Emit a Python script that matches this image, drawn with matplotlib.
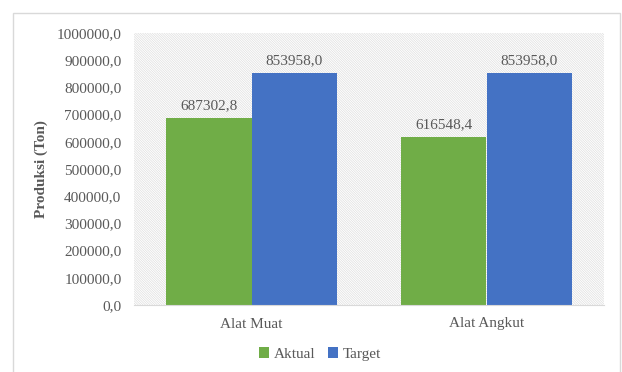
import numpy as np
import matplotlib.pyplot as plt
from matplotlib.patches import Rectangle

categories = ['Alat Muat', 'Alat Angkut']
aktual = [687302.8, 616548.4]
target = [853958.0, 853958.0]
yticks = np.arange(0, 1000001, 100000)

plt.rcParams['font.family'] = ['Liberation Serif', 'DejaVu Serif']
plt.rcParams['hatch.linewidth'] = 0.5
txt = '#595959'

def fmt(v):
    return f'{v:.1f}'.replace('.', ',')

fig = plt.figure(figsize=(6.22, 3.72), dpi=100)
fig.patches.append(Rectangle((13/622, -0.05), (607)/622, 1 - 13/372 + 0.05,
                             transform=fig.transFigure, fill=False,
                             edgecolor='#d9d9d9', linewidth=1))
ax = fig.add_axes([134/622, 1 - 305/372, 470/622, 272/372])

x = np.arange(len(categories))
w = 0.362
# hatched plot area background
ax.add_patch(Rectangle((0, 0), 1, 1, transform=ax.transAxes, facecolor='white',
                       edgecolor='#dedede', linewidth=0, hatch='\\' * 14, zorder=0))
b1 = ax.bar(x - w/2, aktual, w, color='#70ad47', label='Aktual', zorder=2)
b2 = ax.bar(x + w/2, target, w, color='#4472c4', label='Target', zorder=2)

for bars, vals in ((b1, aktual), (b2, target)):
    for r, v in zip(bars, vals):
        ax.text(r.get_x() + r.get_width()/2, v + 22000, fmt(v), ha='center',
                va='bottom', fontsize=11, color=txt)

ax.set_xlim(-0.5, 1.5)
ax.set_ylim(0, 1000000)
ax.set_yticks(yticks)
ax.set_yticklabels([fmt(v) for v in yticks], fontsize=11, color=txt)
ax.set_xticks(x)
ax.set_xticklabels(categories, fontsize=11, color=txt)
ax.tick_params(axis='y', length=0, pad=9)
ax.tick_params(axis='x', length=0, pad=9)
for s in ['top', 'right', 'left']:
    ax.spines[s].set_visible(False)
ax.spines['bottom'].set_color('#d9d9d9')
ax.set_ylabel('Produksi (Ton)', fontsize=11, fontweight='bold', color=txt, labelpad=6)

leg = fig.legend(handles=[b1, b2], loc='center', bbox_to_anchor=(320/622, 1 - 354/372),
                 ncol=2, frameon=False, fontsize=11, handlelength=0.7,
                 handleheight=0.7, handletextpad=0.3, columnspacing=0.8)
for t in leg.get_texts():
    t.set_color(txt)

fig.savefig('out.png', dpi=100)
